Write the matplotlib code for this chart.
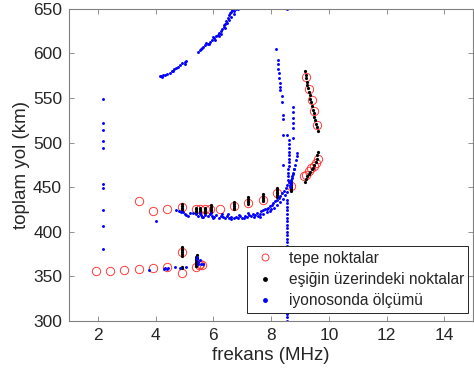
import matplotlib
matplotlib.use("Agg")
import matplotlib.pyplot as plt
from matplotlib.lines import Line2D

plt.rcParams["font.family"] = ["Liberation Sans", "DejaVu Sans"]

# tepe noktalar (red open circles)
tepe_f = [1.93, 2.42, 2.92, 3.41, 3.92, 4.41, 4.90, 4.90, 5.40, 5.50, 5.55, 5.60,
          3.41, 3.92, 4.41, 4.90, 5.40, 5.55, 5.70, 5.89, 6.22, 6.71, 7.20, 7.70,
          8.19, 8.68, 9.15,
          9.19, 9.30, 9.41, 9.50, 9.60,
          9.61, 9.55, 9.47, 9.38, 9.30, 9.21]
tepe_km = [356, 356, 357, 358, 359, 360, 354, 377, 361, 363, 364, 363,
           435, 423, 426, 428, 425, 425, 425, 425, 426, 429, 432, 436,
           444, 451, 462,
           573, 560, 548, 535, 520,
           482, 477, 474, 471, 468, 464]

# esigin uzerindeki noktalar (black dots, vertical streaks)
esik_f = [4.90, 4.90, 4.90, 4.90, 4.90, 4.90, 4.90, 4.90,
          5.40, 5.40, 5.40, 5.40, 5.40, 5.40, 5.43, 5.43,
          4.90, 4.90, 4.90, 4.90, 4.90,
          5.40, 5.40, 5.40, 5.40,
          5.55, 5.55, 5.55, 5.55,
          5.72, 5.72, 5.72, 5.72,
          5.90, 5.90, 5.90, 5.90, 5.90,
          6.71, 6.71, 6.71, 6.71, 6.71,
          7.20, 7.20, 7.20, 7.20, 7.20,
          7.70, 7.70, 7.70, 7.70, 7.70,
          8.19, 8.19, 8.19, 8.19, 8.19, 8.19,
          8.68, 8.68, 8.68, 8.68, 8.68, 8.68,
          9.17, 9.19, 9.21, 9.23, 9.25, 9.28, 9.30, 9.33, 9.36, 9.39, 9.42,
          9.45, 9.48, 9.50, 9.53, 9.56, 9.59, 9.61,
          9.61, 9.60, 9.58, 9.55, 9.50, 9.45, 9.40, 9.35, 9.30, 9.25, 9.20, 9.18]
esik_km = [359, 361, 373, 375, 377, 379, 381, 383,
           362, 364, 366, 368, 370, 372, 374, 371,
           423, 425, 427, 429, 431,
           421, 423, 425, 427,
           421, 423, 425, 427,
           421, 423, 425, 427,
           422, 424, 426, 428, 430,
           425, 427, 429, 431, 433,
           431, 433, 435, 437, 439,
           434, 436, 438, 440, 442,
           439, 441, 443, 445, 447, 449,
           446, 448, 450, 452, 454, 456,
           580, 576, 572, 568, 565, 561, 557, 553, 549, 545, 541,
           537, 533, 529, 525, 521, 517, 513,
           490, 486, 482, 478, 475, 472, 470, 467, 465, 462, 459, 456]

# iyonosonda olcumu (blue dots), by trace
col_f = [2.19, 2.19, 2.19, 2.19, 2.19, 2.19, 2.19, 2.19, 2.19, 2.19, 4.01]
col_km = [549, 522, 514, 502, 494, 454, 449, 424, 407, 381, 412]

alt_f = [3.78, 4.30, 4.33, 4.38, 4.43, 4.66, 4.85, 5.06, 5.42, 5.44, 5.46,
         5.48, 5.52, 5.56, 5.63]
alt_km = [357, 358, 359, 358, 359, 360, 359, 360, 372, 369, 366,
          364, 368, 364, 364]

egri_f = [4.72, 4.80, 4.88, 4.95, 5.00, 5.05, 5.12, 5.18, 5.30, 5.40, 5.45,
          5.52, 5.58, 5.65, 5.72, 5.80, 5.88, 5.95, 6.02, 6.10, 6.18, 6.25,
          6.32, 6.40, 6.48, 6.55, 6.62, 6.70, 6.78, 6.85, 6.92, 7.00, 7.08,
          7.15, 7.22, 7.30, 7.38, 7.45, 7.52, 7.60, 7.66, 7.72, 7.78, 7.84,
          7.90, 7.96, 8.02, 8.08, 8.14, 8.20, 8.26, 8.32, 8.38, 8.44, 8.50,
          8.56, 8.62,
          7.40, 7.55, 7.70, 7.85, 8.00, 8.10, 8.20, 8.30, 8.40, 8.48, 8.55,
          6.50, 6.90, 7.20, 5.90, 6.30, 5.60, 6.00, 6.60, 7.05, 7.60, 7.95]
egri_km = [424, 423, 422, 422, 420, 419, 418, 421, 421, 420, 418,
           421, 419, 417, 419, 418, 420, 418, 417, 419, 416, 418,
           417, 416, 418, 416, 417, 415, 417, 416, 418, 416, 418,
           417, 419, 418, 420, 419, 421, 420, 423, 424, 426, 425,
           427, 429, 430, 432, 434, 436, 438, 440, 443, 446, 449,
           452, 456,
           417, 418, 420, 422, 425, 427, 430, 433, 437, 441, 445,
           420, 419, 421, 421, 420, 417, 415, 414, 415, 417, 423]

kol_f = [8.58, 8.58, 8.59, 8.59, 8.60, 8.60, 8.61, 8.61, 8.62, 8.62, 8.63, 8.62,
         8.66, 8.70, 8.73, 8.76, 8.79, 8.82, 8.85, 8.88, 8.90,
         8.64, 8.67, 8.70, 8.72, 8.75, 8.78,
         8.42, 8.42, 8.56, 8.76, 8.17, 8.22, 8.22, 8.24, 8.26, 8.28, 8.30,
         8.30, 8.32, 8.36, 8.36, 8.42, 8.42, 8.76, 8.76, 8.76, 8.76, 8.76]
kol_km = [458, 462, 466, 470, 474, 478, 482, 486, 490, 494, 498, 503,
          452, 456, 460, 465, 470, 475, 480, 485, 488,
          450, 454, 458, 462, 466, 470,
          509, 475, 509, 505, 605, 593, 588, 583, 578, 572, 567,
          562, 559, 552, 546, 531, 526, 540, 534, 528, 522, 516]

# vertical dotted trace at 8.56 MHz
dikey_f = 8.56
dikey_km = [436, 432, 428, 424, 420, 416, 412, 408, 404,
            400, 396, 392, 388, 384, 380, 376, 372, 368,
            364, 360, 356, 352, 348, 344, 340, 336, 332,
            328, 324, 320, 316, 312, 308, 304, 300, 650]

ust_f = [4.15, 4.20, 4.25, 4.32, 4.40, 4.48, 4.55, 4.62, 4.70, 4.78, 4.85,
         4.92, 5.00, 5.06,
         5.48, 5.52, 5.58, 5.65, 5.72, 5.80, 5.88, 5.95, 6.02, 6.10, 6.15,
         6.20, 6.25, 6.30, 6.35, 6.40, 6.45, 6.50, 6.55, 6.60, 6.65, 6.70,
         6.78, 6.85, 5.85, 6.05, 6.25, 6.40, 6.55, 6.62,
         4.22, 4.60, 5.02, 5.60, 5.75, 6.00, 6.18, 6.35, 6.48, 6.58, 6.72]
ust_km = [575, 575, 576, 576, 577, 578, 580, 582, 584, 585, 587,
          589, 590, 592,
          602, 604, 605, 607, 609, 611, 613, 615, 617, 619, 621,
          623, 625, 627, 630, 633, 636, 640, 643, 646, 649, 648,
          650, 650, 610, 615, 622, 628, 638, 641,
          574, 580, 588, 606, 612, 618, 619, 632, 634, 645, 644]

iyono_f = col_f + alt_f + egri_f + kol_f + [dikey_f] * len(dikey_km) + ust_f
iyono_km = col_km + alt_km + egri_km + kol_km + dikey_km + ust_km

fig = plt.figure(figsize=(4.74, 3.83), dpi=100)
ax = fig.add_axes([0.1456, 0.162, 0.853, 0.815])

red = "#ff3b3b"
ax.plot(tepe_f, tepe_km, "o", mfc="none", mec=red, ms=6.0, mew=0.7, ls="none")
ax.plot(esik_f, esik_km, "o", color="black", ms=2.3, mew=0, ls="none")
ax.plot(iyono_f, iyono_km, "o", color="#0000ff", ms=2.1, mew=0, ls="none")

ax.set_xlim(1, 15)
ax.set_ylim(300, 650)
ax.set_xticks([2, 4, 6, 8, 10, 12, 14])
ax.set_yticks([300, 350, 400, 450, 500, 550, 600, 650])

gray = "#808080"
for s in ax.spines.values():
    s.set_color(gray)
    s.set_linewidth(0.8)
ax.tick_params(direction="in", length=3.5, width=0.6, color=gray,
               top=True, right=True, labelsize=12.5, labelcolor="#262626", pad=5)
ax.set_xlabel("frekans (MHz)", fontsize=13.5, color="#262626", labelpad=3)
ax.set_ylabel("toplam yol (km)", fontsize=13.5, color="#262626", labelpad=2)

handles = [
    Line2D([], [], marker="o", ls="none", mfc="none", mec=red, ms=5.0, mew=0.7),
    Line2D([], [], marker="o", ls="none", color="black", ms=3.5, mew=0),
    Line2D([], [], marker="o", ls="none", color="#0000ff", ms=3.5, mew=0),
]
labels = ["tepe noktalar", "eşiğin üzerindeki noktalar", "iyonosonda ölçümü"]
leg = ax.legend(handles, labels, loc="lower right", bbox_to_anchor=(0.988, 0.026),
                fontsize=11.2, fancybox=False, framealpha=1, edgecolor="#262626",
                handlelength=1.8, handletextpad=0.6, borderpad=0.3,
                labelspacing=0.4, borderaxespad=0)
leg.get_frame().set_linewidth(0.7)
for t in leg.get_texts():
    t.set_color("#262626")

fig.savefig("out.png", dpi=100)
